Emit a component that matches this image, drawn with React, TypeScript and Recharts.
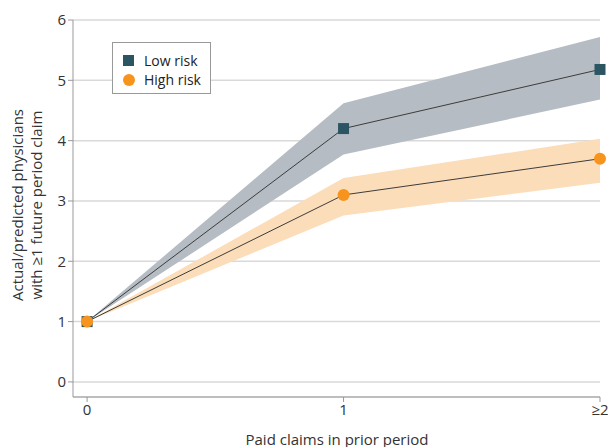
import { ComposedChart, Line, Area, XAxis, YAxis, CartesianGrid } from 'recharts';

const claims = [0, 1, 2];
const lowRisk = [1, 4.2, 5.18];
const lowRiskLower = [1, 3.77, 4.68];
const lowRiskUpper = [1, 4.62, 5.72];
const highRisk = [1, 3.1, 3.7];
const highRiskLower = [1, 2.76, 3.3];
const highRiskUpper = [1, 3.38, 4.03];
const yTicks = [0, 1, 2, 3, 4, 5, 6];

const LOW_COLOR = '#2b5562';
const HIGH_COLOR = '#f7941d';
const FONT = '"Open Sans", "Noto Sans", sans-serif';

const chartData = claims.map((c, i) => ({
    claims: c,
    low: lowRisk[i],
    high: highRisk[i],
    lowBand: [lowRiskLower[i], lowRiskUpper[i]],
    highBand: [highRiskLower[i], highRiskUpper[i]],
}));

const SquareDot = (props: any) => {
    const { cx, cy } = props;
    if (cx == null || cy == null) return null;
    return <rect x={cx - 5.5} y={cy - 5.5} width={11} height={11} fill={LOW_COLOR} />;
};

const CircleDot = (props: any) => {
    const { cx, cy } = props;
    if (cx == null || cy == null) return null;
    return <circle cx={cx} cy={cy} r={6} fill={HIGH_COLOR} />;
};

export default function App() {
    const tickStyle = { fill: '#333', fontSize: 15, fontFamily: FONT };
    return (
        <div style={{ position: 'absolute', left: 0, top: 0, width: 608, height: 447, background: '#fff', fontFamily: FONT }}>
            <ComposedChart width={608} height={447} data={chartData} margin={{ top: 20, right: 8, bottom: 20, left: 0 }}>
                <CartesianGrid vertical={false} stroke="#d9d9d9" strokeWidth={1.5} />
                <XAxis
                    dataKey="claims"
                    type="number"
                    domain={[-0.055, 2]}
                    ticks={[0, 1, 2]}
                    tickFormatter={(v) => (v === 2 ? '≥2' : String(v))}
                    height={30}
                    stroke="#999"
                    tickSize={5}
                    tick={tickStyle}
                />
                <YAxis
                    type="number"
                    domain={[-0.25, 6]}
                    ticks={yTicks}
                    width={73}
                    stroke="#999"
                    tickSize={5}
                    tick={tickStyle}
                    allowDataOverflow
                />
                <Area dataKey="lowBand" type="linear" stroke="none" fill="#b6bcc3" fillOpacity={1} isAnimationActive={false} />
                <Area dataKey="highBand" type="linear" stroke="none" fill="#fcddb9" fillOpacity={1} isAnimationActive={false} />
                <Line dataKey="low" type="linear" stroke="#3c3c3c" strokeWidth={1} dot={<SquareDot />} activeDot={false} isAnimationActive={false} />
                <Line dataKey="high" type="linear" stroke="#3c3c3c" strokeWidth={1} dot={<CircleDot />} activeDot={false} isAnimationActive={false} />
            </ComposedChart>

            <div style={{ position: 'absolute', left: 112, top: 42, width: 99, height: 52, border: '1px solid #999', boxSizing: 'border-box', background: '#fff' }}>
                <div style={{ position: 'absolute', left: 10, top: 8, display: 'flex', alignItems: 'center', fontSize: 14, color: '#222' }}>
                    <span style={{ display: 'inline-block', width: 11, height: 11, background: LOW_COLOR, marginRight: 10 }} />
                    Low risk
                </div>
                <div style={{ position: 'absolute', left: 10, top: 27, display: 'flex', alignItems: 'center', fontSize: 14, color: '#222' }}>
                    <span style={{ display: 'inline-block', width: 12, height: 12, borderRadius: 6, background: HIGH_COLOR, marginRight: 9 }} />
                    High risk
                </div>
            </div>

            <div style={{ position: 'absolute', left: 27, top: 205, transform: 'translate(-50%, -50%) rotate(-90deg)', whiteSpace: 'nowrap', textAlign: 'center', fontSize: 15, lineHeight: '19px', color: '#333' }}>
                Actual/predicted physicians<br />with ≥1 future period claim
            </div>

            <div style={{ position: 'absolute', left: 337, top: 439, transform: 'translate(-50%, -50%)', whiteSpace: 'nowrap', fontSize: 15, color: '#333' }}>
                Paid claims in prior period
            </div>
        </div>
    );
}
